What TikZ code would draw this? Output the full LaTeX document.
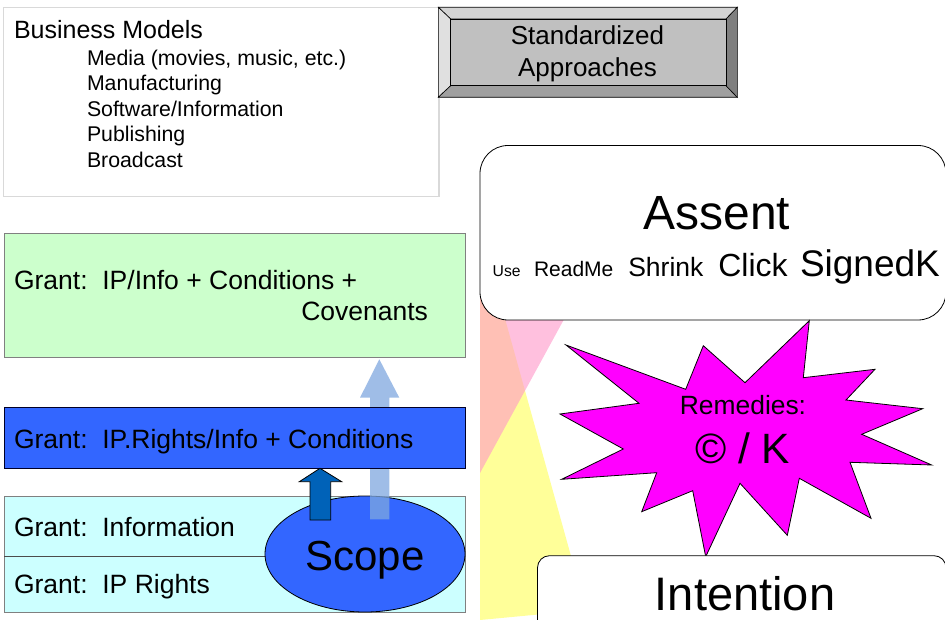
\documentclass[tikz,border=0pt]{standalone}
\usepackage{fontspec}
\setmainfont{Liberation Sans}
\newcommand\setfs[1]{\fontsize{#1}{#1}\selectfont}
\definecolor{bmgray}{HTML}{D9D9D9}
\definecolor{bevtop}{HTML}{D4D4D4}
\definecolor{bevleft}{HTML}{E0E0E0}
\definecolor{bevface}{HTML}{C0C0C0}
\definecolor{bevbot}{HTML}{A0A0A0}
\definecolor{bevright}{HTML}{7F7F7F}
\definecolor{grantgreen}{HTML}{CCFFCC}
\definecolor{grantblue}{HTML}{3366FF}
\definecolor{grantcyan}{HTML}{CCFFFF}
\definecolor{darkarrow}{HTML}{0062B8}
\definecolor{lightarrow}{HTML}{7FA8E0}
\definecolor{beamyellow}{HTML}{FFFF99}
\definecolor{beampink}{HTML}{FF96C8}
\definecolor{burst}{HTML}{FF00FF}
\definecolor{boxline}{HTML}{808080}
\begin{document}
\begin{tikzpicture}[x=1pt,y=-1pt,line join=miter,
  txt/.style={inner sep=0pt,outer sep=0pt,anchor=base west},
  ctxt/.style={inner sep=0pt,outer sep=0pt,anchor=base},
  ln/.style={line width=0.8pt},
  bevel/.style={draw=black,line width=0.6pt}]
\useasboundingbox (0,0) rectangle (945,620);
\fill[white] (0,0) rectangle (945,620);

% background beams
\fill[beamyellow] (480,290) -- (497,290) -- (586,610) -- (480,620) -- cycle;
\fill[beampink,opacity=0.6] (480,290) -- (580,290) -- (480,473) -- cycle;

% Business models
\draw[draw=bmgray,line width=1.6pt,fill=white] (3.5,7.5) rectangle (439,196.5);
\node[txt,font=\setfs{25}] (bm) at (14,39) {Business Models};
\node[txt,font=\setfs{21.3}] (bm1) at (87,65.5) {Media (movies, music, etc.)};
\node[txt,font=\setfs{21.3}] (bm2) at (87,91) {Manufacturing};
\node[txt,font=\setfs{21.3}] (bm3) at (87,116.5) {Software/Information};
\node[txt,font=\setfs{21.3}] (bm4) at (87,142) {Publishing};
\node[txt,font=\setfs{21.3}] (bm5) at (87,167.5) {Broadcast};

% Standardized approaches (bevel)
\filldraw[bevel,fill=bevtop] (438.3,7.3) -- (737.3,7.3) -- (726,19) -- (450.7,19) -- cycle;
\filldraw[bevel,fill=bevleft] (438.3,7.3) -- (450.7,19) -- (450.7,85.7) -- (438.3,97.3) -- cycle;
\filldraw[bevel,fill=bevbot] (438.3,97.3) -- (450.7,85.7) -- (726,85.7) -- (737.3,97.3) -- cycle;
\filldraw[bevel,fill=bevright] (737.3,7.3) -- (737.3,97.3) -- (726,85.7) -- (726,19) -- cycle;
\filldraw[bevel,fill=bevface] (450.7,19) rectangle (726,85.7);
\node[ctxt,font=\setfs{26}] (sa1) at (587.5,45) {Standardized};
\node[ctxt,font=\setfs{26}] (sa2) at (587.5,76.5) {Approaches};

% Grant boxes
\filldraw[ln,draw=boxline,fill=grantgreen] (4,233.3) rectangle (465,357.3);
\node[txt,font=\setfs{26.5}] (g3a) at (14,289.3) {Grant:\ \ IP/Info + Conditions +};
\node[inner sep=0pt,outer sep=0pt,anchor=base east,font=\setfs{26.5}] (g3b) at (428,320.7) {Covenants};

\filldraw[ln,draw=boxline,fill=grantcyan] (4,496) rectangle (465,612.7);
\draw[ln,draw=black!70] (4,556) -- (300,556);
\node[txt,font=\setfs{26.5}] (g1a) at (14,536) {Grant:\ \ Information};
\node[txt,font=\setfs{26.5}] (g1b) at (14,593.3) {Grant:\ \ IP Rights};

% Scope
\filldraw[ln,draw=black,fill=grantblue] (365,554) ellipse [x radius=100, y radius=58];
\fill[lightarrow,opacity=0.75] (370,519.3) -- (370,397.7) -- (360,397.7) -- (379.3,359.3) -- (399.3,397.7) -- (389.3,397.7) -- (389.3,519.3) -- cycle;

\filldraw[ln,draw=black!85!blue,fill=grantblue] (4,407.7) rectangle (465,468.3);
\node[txt,font=\setfs{26.5}] (g2) at (14,448.2) {Grant:\ \ IP.Rights/Info + Conditions};

\filldraw[ln,draw=black,fill=darkarrow] (310,520) -- (310,481.7) -- (299.3,481.7) -- (320,468.3) -- (341.7,481.7) -- (330.7,481.7) -- (330.7,520) -- cycle;
\node[ctxt,font=\setfs{42}] (scope) at (365,570) {Scope};

% Assent
\draw[ln,fill=white,rounded corners=28pt] (480,145.5) rectangle (946,320);
\node[ctxt,font=\setfs{48}] (assent) at (716.7,230) {Assent};
\node[txt,font=\setfs{15.7}] (use) at (492.7,276.7) {Use};
\node[txt,font=\setfs{21}] (readme) at (534,276.7) {ReadMe};
\node[txt,font=\setfs{26.5}] (shrink) at (628.3,276.7) {Shrink};
\node[txt,font=\setfs{32}] (click) at (718.3,276.7) {Click};
\node[txt,font=\setfs{37}] (signedk) at (800,276.7) {SignedK};

% Remedies starburst
\filldraw[ln,draw=black,fill=burst]
  (809.3,320.7) -- (803.3,377.7) -- (875,369.3) -- (846,400) -- (922.7,408.7)
  -- (861.7,434.3) -- (931.7,465) -- (850,462.3) -- (871,518.3) -- (799.3,478.3)
  -- (787.3,535.3) -- (740,483.3) -- (705.7,556.7) -- (692.7,490.7) -- (641.7,511.7)
  -- (656.7,472.7) -- (561.7,479.3) -- (623.3,449) -- (560,414) -- (639,403.3)
  -- (566,345) -- (685.7,389.3) -- (703.3,345.7) -- (745,382.7) -- cycle;
\node[ctxt,font=\setfs{26.4}] (rem) at (743,414.3) {Remedies:};
\node[ctxt,font=\setfs{42.4}] (ck) at (742.7,463.3) {© / K};

% Intention
\draw[ln,fill=white,rounded corners=12pt] (537.5,555.7) rectangle (946,650);
\node[ctxt,font=\setfs{47}] (intention) at (745,610) {Intention};
\end{tikzpicture}
\end{document}
